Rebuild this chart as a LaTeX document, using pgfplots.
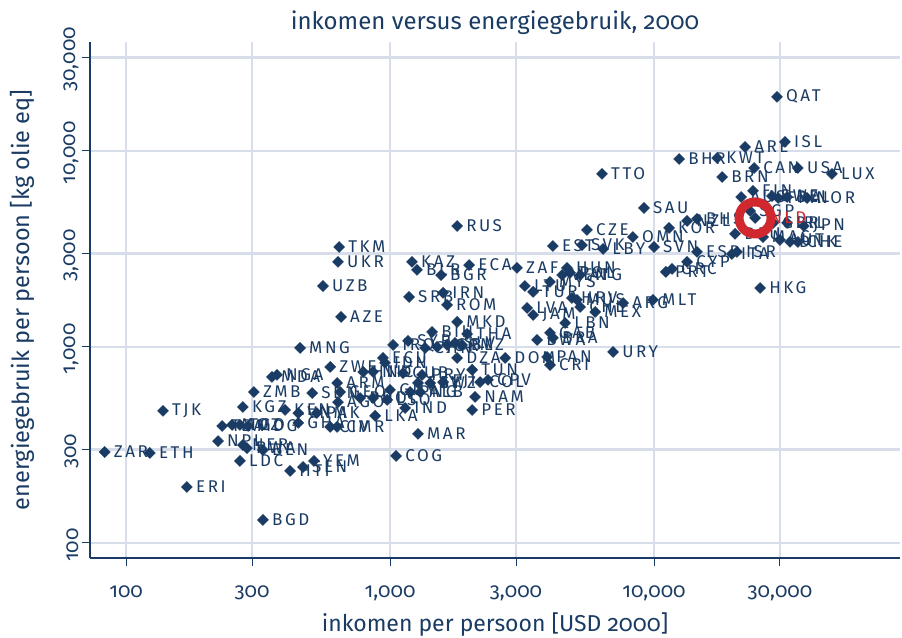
\documentclass[border=0pt]{standalone}
\usepackage{fontspec}
\setmainfont{Fira Sans}[Numbers=OldStyle]
\newfontfamily\lblfont{Fira Sans}[LetterSpace=15]
\usepackage{pgfplots}
\usepackage{pgfplotstable}
\pgfplotsset{compat=1.18}
\definecolor{navy}{HTML}{1A3B63}
\definecolor{gridc}{HTML}{D8DDEA}
\definecolor{hl}{HTML}{D0282E}
\pgfplotstableread{
x y lab
83 291 ZAR
123 288 ETH
138 472 TJK
170 193 ERI
330 131 BGD
270 262 LDC
223 331 NPL
231 395 TZA
252 400 MOZ
270 400 TGO
290 395 MDG
277 316 NER
287 305 RWA
330 298 BEN
418 233 HTI
468 244 SEN
515 262 YEM
277 494 KGZ
305 589 ZMB
357 703 MDA
373 720 NGA
507 582 SDN
400 477 KEN
449 460 VNM
449 410 GHA
528 460 PAK
593 391 CIV
630 391 CMR
878 445 LKA
1276 360 MAR
1054 278 COG
647 589 GEO
635 523 AGO
770 549 PHL
862 549 BOL
975 537 LSO
1140 488 IND
1300 589 ALB
1000 604 GUY
1191 589 PNG
630 655 ARM
593 791 ZWE
791 746 HND
862 746 NIC
1120 736 CUB
1322 720 PRY
940 879 ECU
957 829 IDN
1027 1024 IRQ
1170 1073 SYR
1357 988 CHN
1507 1000 JOR
1644 1024 GTM
1762 1048 SLV
1874 1024 BLZ
1795 879 DZA
2046 764 TUN
2729 879 DOM
1276 655 EGY
1418 655 SWZ
1588 662 FJI
2193 662 COL
2350 679 CPV
2099 556 NAM
2046 477 PER
456 988 MNG
652 1422 AZE
557 2046 UZB
635 2716 UKR
641 3236 TKM
1795 4140 RUS
1211 2716 KAZ
1265 2473 BLR
1560 2328 BGR
1992 2618 ECA
1180 1799 SRB
1588 1888 IRN
1644 1638 ROM
1795 1342 MKD
1443 1193 BIH
1958 1165 THA
3027 2531 ZAF
4677 2531 HUN
4487 2328 VEN
4036 2148 MYS
4808 2388 POL
5248 2328 ATG
3243 2046 LTU
3483 1910 TUR
4887 1778 HRV
5105 1738 MUS
5248 1600 CHL
5984 1509 MEX
7638 1675 ARG
9913 1738 MLT
3304 1581 LVA
3483 1456 JAM
4603 1325 LBN
3606 1086 BWA
4036 1179 GAB
4140 1112 BRA
6998 943 URY
3936 889 PAN
4036 809 CRI
4140 3273 EST
5333 3311 SVK
6412 3162 LBY
5572 3954 CZE
8318 3638 OMN
6353 7638 TTO
9162 5117 SAU
10000 3236 SVN
11400 4046 KOR
13340 4395 NZL
14550 4498 BHS
12450 9100 BHR
17340 9204 KWT
22130 10480 ARE
29240 18880 QAT
31330 11120 ISL
23930 8184 CAN
35080 8184 USA
47210 7638 LUX
18110 7362 BRN
23710 6252 FIN
21380 5821 AUS
27990 5888 SWE
29510 5754 FRA
31920 5821 BEL
38020 5754 NOR
23120 4943 SGP
28260 4295 GBR
31920 4295 IRL
36980 4140 JPN
20280 3776 DEU
25880 3638 MAC
30000 3516 AUT
32740 3434 DNK
35080 3434 CHE
14550 3055 ESP
13340 2716 CYP
19720 2979 ITA
20610 3055 ISR
11090 2415 PRT
11700 2500 GRC
25230 2000 HKG
}\datatable
\pgfplotstableread{
x y lab
24140 4550 NLD
}\nldtable

\begin{document}
\begin{tikzpicture}[x=1bp,y=1bp]
\useasboundingbox (-90,-80) rectangle (812,558);
\begin{axis}[
  at={(0,0)}, anchor=south west,
  width=810bp, height=516bp, scale only axis,
  xmode=log, ymode=log,
  xmin=73, xmax=85500, ymin=83.8, ymax=35970,
  axis x line*=bottom, axis y line*=left,
  axis line style={navy, line width=1.2bp, -},
  xtick={100,300,1000,3000,10000,30000},
  xticklabels={100,300,{1,000},{3,000},{10,000},{30,000}},
  ytick={100,300,1000,3000,10000,30000},
  yticklabels={100,300,{1,000},{3,000},{10,000},{30,000}},
  xminorticks=false, yminorticks=false,
  tick style={navy, line width=1bp},
  major tick length=8bp,
  tick align=outside,
  grid=major, major grid style={gridc, line width=2.5bp},
  ticklabel style={font=\fontsize{20.5bp}{20.5bp}\selectfont, text=navy},
  xticklabel style={yshift=-16bp},
  yticklabel style={rotate=90, anchor=south, xshift=-2bp},
  clip=false,
]
\addplot[only marks, mark=square*, mark size=3.9bp, mark options={rotate=45, fill=navy, draw=navy},
  nodes near coords, point meta=explicit symbolic,
  nodes near coords style={font=\lblfont\fontsize{17bp}{17bp}\selectfont, text=navy, anchor=west, inner sep=0pt, xshift=9bp}]
  table[x=x, y=y, meta=lab]{\datatable};
\addplot[only marks, mark=square*, mark size=3.9bp, mark options={rotate=45, fill=navy, draw=navy},
  nodes near coords, point meta=explicit symbolic,
  nodes near coords style={font=\lblfont\fontsize{17bp}{17bp}\selectfont, text=hl, anchor=west, inner sep=0pt, xshift=15bp}]
  table[x=x, y=y, meta=lab]{\nldtable};
\addplot[only marks, mark=o, mark size=16bp, mark options={draw=hl, line width=9bp}]
  table[x=x, y=y]{\nldtable};
\end{axis}
\node[anchor=base, text=navy, font=\fontsize{24bp}{24bp}\selectfont] at (405,528) {inkomen versus energiegebruik, 2000};
\node[anchor=base, text=navy, font=\fontsize{23bp}{23bp}\selectfont] at (405,-74) {inkomen per persoon [USD 2000]};
\node[anchor=base, rotate=90, text=navy, font=\fontsize{23.5bp}{23.5bp}\selectfont] at (-60,258) {energiegebruik per persoon [kg olie eq]};
\end{tikzpicture}
\end{document}
